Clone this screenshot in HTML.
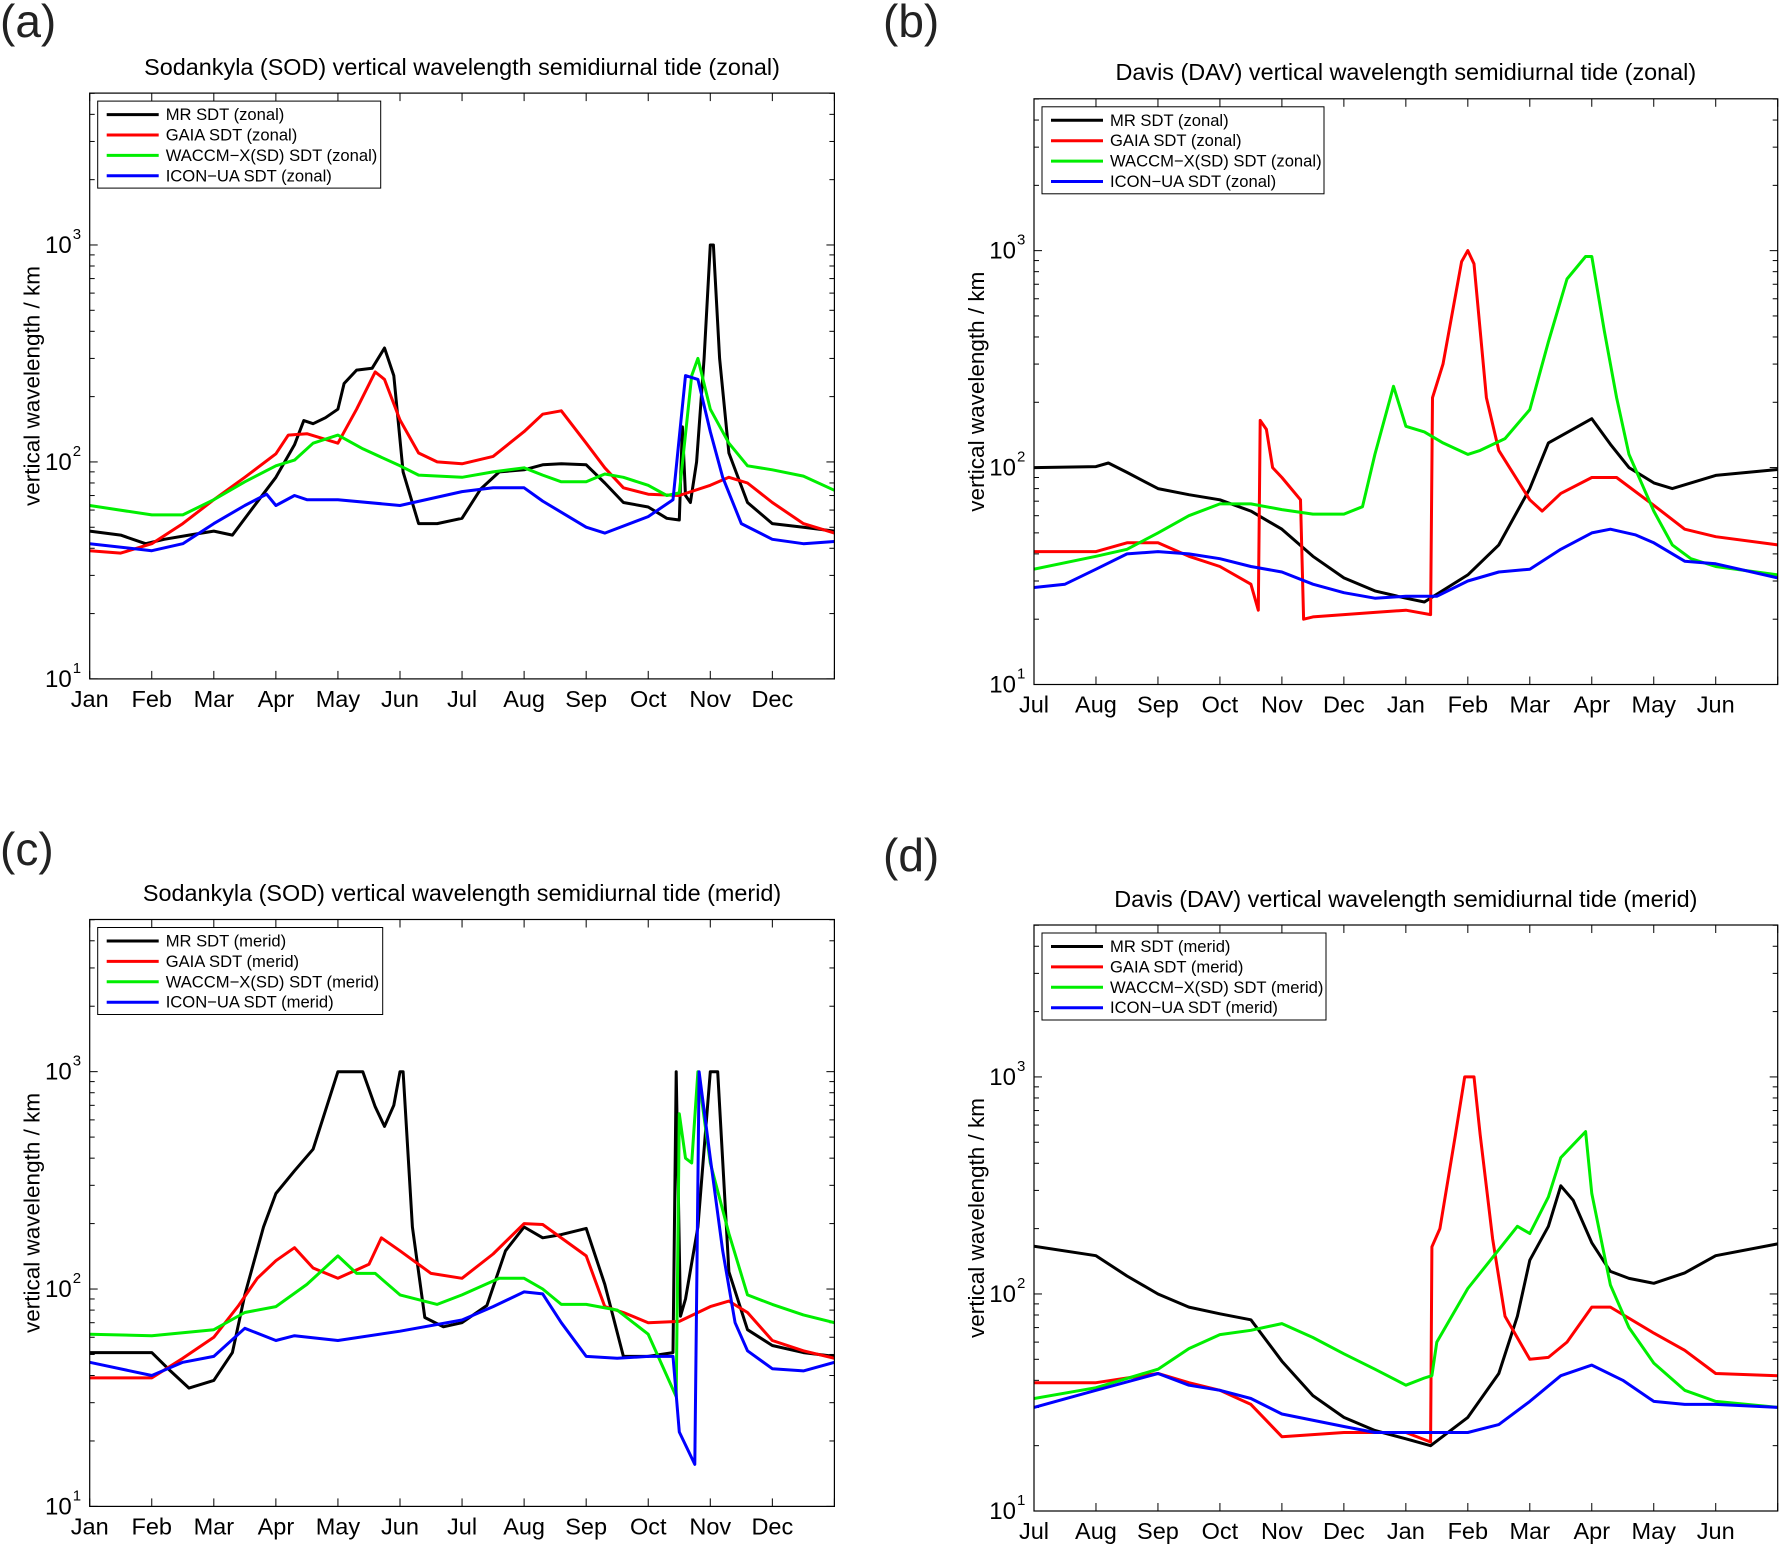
<!DOCTYPE html>
<html><head><meta charset="utf-8">
<style>
body{margin:0;background:#fff;}
svg{display:block;font-family:"Liberation Sans",Arial,sans-serif;}
</style></head>
<body>
<svg id="fig" width="1780" height="1544" viewBox="0 0 1780 1544"></svg>
<script>
// ---- data (month position from start of axis, value in km) ----
const zonalMonthsA = ['Jan','Feb','Mar','Apr','May','Jun','Jul','Aug','Sep','Oct','Nov','Dec'];
const zonalMonthsB = ['Jul','Aug','Sep','Oct','Nov','Dec','Jan','Feb','Mar','Apr','May','Jun'];
const yTickExp = [1,2,3];

// Panel a
const aMR_t = [0,0.5,0.9,1.2,1.6,2.0,2.3,2.6,3.0,3.3,3.45,3.6,3.8,4.0,4.1,4.3,4.55,4.75,4.9,5.05,5.3,5.6,6.0,6.3,6.6,7.0,7.3,7.6,8.0,8.3,8.6,9.0,9.3,9.5,9.55,9.6,9.68,9.78,9.9,10.0,10.05,10.15,10.3,10.6,11.0,11.5,12];
const aMR_v = [48,46,42,44,46,48,46,60,85,120,155,150,160,175,230,265,270,335,250,90,52,52,55,75,90,92,97,98,97,80,65,62,55,54,145,70,65,100,300,1000,1000,300,110,65,52,50,48];
const aGA_t = [0,0.5,1,1.5,2,2.5,3,3.2,3.5,4,4.3,4.6,4.75,5,5.3,5.6,6,6.5,7,7.3,7.6,8,8.3,8.6,9,9.5,10,10.3,10.6,11,11.5,12];
const aGA_v = [39,38,42,52,67,85,109,133,135,122,175,260,240,156,110,100,98,106,138,166,172,122,94,76,71,70,78,85,80,65,52,47];
const aWA_t = [0,1,1.5,2,2.5,3,3.3,3.6,4,4.4,5,5.3,6,6.5,7,7.3,7.6,8,8.3,8.6,9,9.3,9.5,9.7,9.8,10,10.3,10.6,11,11.5,12];
const aWA_v = [63,57,57,67,81,96,102,122,133,115,96,87,85,90,94,87,81,81,88,85,78,70,72,250,300,175,122,96,92,86,74];
const aIC_t = [0,1,1.5,2,2.5,2.85,3,3.3,3.5,4,5,6,6.5,7,7.3,8,8.3,9,9.4,9.6,9.8,10,10.2,10.5,11,11.5,12];
const aIC_v = [42,39,42,52,63,71,63,70,67,67,63,73,76,76,66,50,47,56,67,250,240,138,85,52,44,42,43];

// Panel b
const bMR_t = [0,1,1.2,1.5,2,2.5,3,3.5,4,4.5,5,5.5,6,6.3,7,7.5,8,8.3,9,9.3,9.6,10,10.3,11,12];
const bMR_v = [100,101,105,95,80,75,71,63,52,39,31,27,25,24,32,44,80,130,168,128,100,85,80,92,98];
const bGA_t = [0,1,1.5,2,2.5,3,3.5,3.62,3.65,3.75,3.85,4,4.3,4.35,4.5,5,5.5,6,6.4,6.43,6.6,6.9,7,7.1,7.3,7.5,8,8.2,8.5,9,9.4,10,10.5,11,12];
const bGA_v = [41,41,45,45,39,35,29,22,165,150,100,90,71,20,20.5,21,21.5,22,21,210,300,890,1000,870,210,120,71,63,76,90,90,67,52,48,44];
const bWA_t = [0,1,1.5,2,2.5,3,3.5,4,4.5,5,5.3,5.5,5.8,6,6.3,6.6,7,7.2,7.6,8,8.3,8.6,8.9,9,9.2,9.4,9.6,10,10.3,10.6,11,12];
const bWA_v = [34,39,42,50,60,68,68,64,61,61,66,115,237,155,146,130,115,120,136,185,380,740,940,940,430,210,115,63,44,38,35,32];
const bIC_t = [0,0.5,1,1.5,2,2.5,3,3.5,4,4.5,5,5.5,6,6.5,7,7.5,8,8.5,9,9.3,9.7,10,10.5,11,12];
const bIC_v = [28,29,34,40,41,40,38,35,33,29,26.5,25,25.5,25.5,30,33,34,42,50,52,49,45,37,36,31];

// Panel c
const cMR_t = [0,1,1.3,1.6,2,2.3,2.5,2.8,3,3.3,3.6,4,4.4,4.6,4.75,4.9,5,5.05,5.2,5.4,5.7,6,6.4,6.7,7,7.3,7.6,8,8.3,8.6,9,9.4,9.45,9.52,9.6,9.8,10,10.12,10.3,10.6,11,11.5,12];
const cMR_v = [51,51,42,35,38,51,94,193,275,350,440,1000,1000,690,560,700,1000,1000,193,74,67,70,84,150,193,172,178,190,105,49,49,51,1000,75,90,193,1000,1000,120,65,55,51,49];
const cGA_t = [0,1,1.5,2,2.4,2.7,3,3.3,3.6,4,4.5,4.7,5,5.5,6,6.5,7,7.3,8,8.3,8.6,9,9.5,10,10.3,10.6,11,11.5,12];
const cGA_v = [39,39,48,60,84,112,135,155,125,112,130,172,150,118,112,145,200,198,142,83,78,70,71,83,88,78,58,52,48];
const cWA_t = [0,1,2,2.5,3,3.5,4,4.3,4.6,5,5.6,6,6.6,7,7.3,7.6,8,8.5,9,9.45,9.5,9.6,9.7,9.8,10,10.3,10.6,11,11.5,12];
const cWA_v = [62,61,65,78,83,105,142,118,118,94,85,94,112,112,100,85,85,80,62,32,640,400,380,1000,380,180,94,85,76,70];
const cIC_t = [0,1,1.5,2,2.5,3,3.3,4,5,6,6.5,7,7.3,7.6,8,8.5,9,9.4,9.5,9.75,9.82,10,10.2,10.4,10.6,11,11.5,12];
const cIC_v = [46,40,46,49,66,58,61,58,64,72,83,97,95,70,49,48,49,49,22,15.6,1000,400,150,70,52,43,42,46];

// Panel d
const dMR_t = [0,1,1.5,2,2.5,3,3.5,4,4.5,5,5.5,6,6.4,7,7.5,7.8,8,8.3,8.5,8.7,9,9.3,9.6,10,10.5,11,12];
const dMR_v = [166,150,121,100,87,81,76,49,34,27,23.5,21.5,20,27,43,79,143,205,315,270,172,127,118,112,125,150,170];
const dGA_t = [0,1,1.5,2,2.5,3,3.5,4,4.5,5,6,6.4,6.42,6.55,6.8,6.95,7.1,7.2,7.4,7.6,8,8.3,8.6,9,9.3,10,10.5,11,12];
const dGA_v = [39,39,41,43,39,36,31,22,22.5,23,23,20.8,165,200,540,1000,1000,540,180,79,50,51,60,87,87,66,55,43,42];
const dWA_t = [0,1,2,2.5,3,3.5,4,4.5,5,5.5,6,6.3,6.42,6.5,7,7.5,7.8,8,8.3,8.5,8.9,9,9.3,9.6,10,10.5,11,12];
const dWA_v = [33,37,45,56,65,68,73,63,53,45,38,41,42,60,106,160,205,190,280,425,560,290,110,70,48,36,32,30];
const dIC_t = [0,1,2,2.5,3,3.5,4,5,5.5,6,7,7.5,8,8.5,9,9.5,10,10.5,11,12];
const dIC_v = [30,36,43,38,36,33,28,24.5,23,23,23,25,32,42,47,40,32,31,31,30];

const panels = [
 {id:'a', label:'(a)', lx:0, ly:37, L:89.7,R:834.4,T:93.1,B:678.9, titleY:75,
  title:'Sodankyla (SOD) vertical wavelength semidiurnal tide (zonal)', months:zonalMonthsA, comp:'zonal', legW:283,
  series:[[aMR_t,aMR_v],[aGA_t,aGA_v],[aWA_t,aWA_v],[aIC_t,aIC_v]]},
 {id:'b', label:'(b)', lx:883, ly:37, L:1034,R:1777.7,T:98.8,B:684.5, titleY:80,
  title:'Davis (DAV) vertical wavelength semidiurnal tide (zonal)', months:zonalMonthsB, comp:'zonal', legW:282,
  series:[[bMR_t,bMR_v],[bGA_t,bGA_v],[bWA_t,bWA_v],[bIC_t,bIC_v]]},
 {id:'c', label:'(c)', lx:0, ly:865, L:89.7,R:834.4,T:919.5,B:1506.4, titleY:901,
  title:'Sodankyla (SOD) vertical wavelength semidiurnal tide (merid)', months:zonalMonthsA, comp:'merid', legW:285,
  series:[[cMR_t,cMR_v],[cGA_t,cGA_v],[cWA_t,cWA_v],[cIC_t,cIC_v]]},
 {id:'d', label:'(d)', lx:883, ly:871, L:1034,R:1777.7,T:925,B:1511, titleY:907,
  title:'Davis (DAV) vertical wavelength semidiurnal tide (merid)', months:zonalMonthsB, comp:'merid', legW:284,
  series:[[dMR_t,dMR_v],[dGA_t,dGA_v],[dWA_t,dWA_v],[dIC_t,dIC_v]]}
];
const colors = ['#000000','#ff0000','#00ee00','#0000ff'];
const names = ['MR SDT','GAIA SDT','WACCM\u2212X(SD) SDT','ICON\u2212UA SDT'];
const seriesKeys = ['mr','gaia','waccm','icon'];

const NS='http://www.w3.org/2000/svg';
const svg=document.getElementById('fig');
function mk(tag,attrs,parent){const e=document.createElementNS(NS,tag);for(const k in attrs)e.setAttribute(k,attrs[k]);(parent||svg).appendChild(e);return e;}

panels.forEach(p=>{
  const g=mk('g',{});
  
  
  const xS=m=>p.L+(p.R-p.L)*m/12;
  const yS=v=>p.B-(p.B-p.T)*(Math.log10(v)-1)/2.7;
  const lab=mk('text',{x:p.lx,y:p.ly,'font-size':46,fill:'#222'},g);lab.textContent=p.label;
  
  
  const t=mk('text',{x:(p.L+p.R)/2,y:p.titleY,'font-size':23.4,'text-anchor':'middle',fill:'#000'},g);t.textContent=p.title;
  
  
  const cp=mk('clipPath',{id:'clip'+p.id},g);mk('rect',{x:p.L,y:p.T,width:p.R-p.L,height:p.B-p.T},cp);
  for(let i=0;i<=12;i++){
    const x=xS(i);
    mk('line',{x1:x,y1:p.B,x2:x,y2:p.B-8,stroke:'#000','stroke-width':1},g);
    mk('line',{x1:x,y1:p.T,x2:x,y2:p.T+8,stroke:'#000','stroke-width':1},g);
  }
  p.months.forEach((mn,i)=>{
    const tx=mk('text',{x:xS(i),y:p.B+28,'font-size':23.5,'text-anchor':'middle'},g);tx.textContent=mn;
    
    
  });
  for(let e=1;e<=3;e++){
    for(let k=1;k<=9;k++){
      const v=k*Math.pow(10,e);
      if(Math.log10(v)>3.7)break;
      const y=yS(v),len=k===1?8:5;
      mk('line',{x1:p.L,y1:y,x2:p.L+len,y2:y,stroke:'#000','stroke-width':1},g);
      mk('line',{x1:p.R,y1:y,x2:p.R-len,y2:y,stroke:'#000','stroke-width':1},g);
    }
  }
  yTickExp.forEach(e=>{
    const y=yS(Math.pow(10,e));
    const tx=mk('text',{x:p.L-18,y:y+8,'font-size':24,'text-anchor':'end'},g);tx.textContent='10';
    
    
    const sp=mk('text',{x:p.L-17,y:y-6,'font-size':15},g);sp.textContent=String(e);
  });
  const yl=mk('text',{x:0,y:0,'font-size':22.5,'text-anchor':'middle',transform:`translate(${p.L-50},${(p.T+p.B)/2}) rotate(-90)`},g);
  yl.textContent='vertical wavelength / km';
  
  
  p.series.forEach((s,si)=>{
    const [ts,vs]=s;
    const d=ts.map((m,i)=>(i?'L':'M')+xS(m).toFixed(1)+','+yS(vs[i]).toFixed(1)).join(' ');
    const path=mk('path',{d:d,fill:'none',stroke:colors[si],'stroke-width':3,'stroke-linejoin':'round','clip-path':'url(#clip'+p.id+')'},g);
    
    
  });
  mk('rect',{x:p.L,y:p.T,width:p.R-p.L,height:p.B-p.T,fill:'none',stroke:'#000','stroke-width':1.2},g);
  const lg=mk('g',{},g);
  
  
  const lx=p.L+8,ly=p.T+8;
  mk('rect',{x:lx,y:ly,width:p.legW,height:87,fill:'#fff',stroke:'#000','stroke-width':1},lg);
  names.forEach((n,i)=>{
    const yy=ly+13.5+i*20.4;
    mk('line',{x1:lx+9,y1:yy,x2:lx+61,y2:yy,stroke:colors[i],'stroke-width':3},lg);
    const tx=mk('text',{x:lx+68,y:yy+5.5,'font-size':16.6},lg);tx.textContent=n+' ('+p.comp+')';
    
    
  });
});
</script>
</body></html>
